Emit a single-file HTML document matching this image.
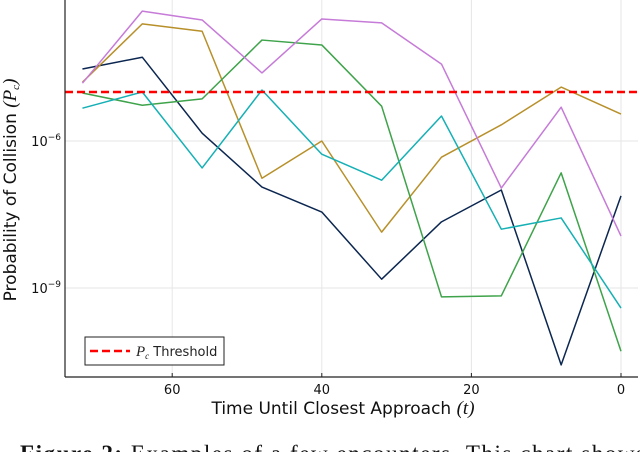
<!DOCTYPE html>
<html><head><meta charset="utf-8"><style>
html,body{margin:0;padding:0;background:#fff;width:640px;height:452px;overflow:hidden}
svg text{font-family:"DejaVu Sans","Liberation Sans",sans-serif}
.ser{font-family:"Liberation Serif",serif !important;font-style:italic}
.cap{font-family:"Liberation Serif",serif !important}
</style></head><body>
<svg id="chart" width="640" height="452" viewBox="0 0 640 452" xmlns="http://www.w3.org/2000/svg">
<g id="grid"></g>
<g id="series"></g>
<g id="axes"></g>
<g>
<rect x="85" y="337" width="139" height="28" fill="#fff" stroke="#222" stroke-width="1"/>
<line x1="90" y1="351" x2="130" y2="351" stroke="#f00" stroke-width="2.5" stroke-dasharray="8,4"/>
<text x="136" y="356" font-size="13" fill="#222"><tspan class="ser" font-size="15">P</tspan><tspan class="ser" font-size="9" dy="3">c</tspan><tspan dy="-3"> Threshold</tspan></text>
</g>
<text x="343" y="414" font-size="17" text-anchor="middle" fill="#111">Time Until Closest Approach <tspan class="ser" font-size="19">(t)</tspan></text>
<text transform="translate(16,190) rotate(-90)" font-size="17" text-anchor="middle" fill="#111">Probability of Collision <tspan class="ser" font-size="19">(P</tspan><tspan class="ser" font-size="11" dy="3">c</tspan><tspan class="ser" font-size="19" dy="-3">)</tspan></text>
<text class="cap" x="20" y="461" font-size="23" fill="#111" textLength="625" lengthAdjust="spacing"><tspan font-weight="bold">Figure 2:</tspan> Examples of a few encounters. This chart shows</text>
</svg>
<script>
const times = [72, 64, 56, 48, 40, 32, 24, 16, 8, 0];
const seriesNavy   = [-4.53, -4.29, -5.84, -6.94, -7.45, -8.82, -7.65, -7.0, -10.57, -7.12];
const seriesGold   = [-4.80, -3.61, -3.76, -6.76, -6.0, -7.86, -6.33, -5.67, -4.90, -5.45];
const seriesGreen  = [-5.02, -5.27, -5.14, -3.94, -4.04, -5.29, -9.18, -9.16, -6.65, -10.29];
const seriesCyan   = [-5.33, -5.0, -6.55, -4.96, -6.27, -6.80, -5.49, -7.80, -7.57, -9.41];
const seriesPurple = [-4.82, -3.35, -3.53, -4.61, -3.51, -3.59, -4.43, -6.96, -5.31, -7.94];
const thresholdLog = -5;
const xTicks = [60, 40, 20, 0];
const yTicks = [-6, -9];

const NS = "http://www.w3.org/2000/svg";
const L = 65, R = 638, T = 0, B = 377;
function xs(t){ return 621 - 7.48 * t; }
function ys(lg){ return 141 - (lg + 6) * 49; }
function mk(tag, attrs, parent){ const e = document.createElementNS(NS, tag); for (const k in attrs) e.setAttribute(k, attrs[k]); parent.appendChild(e); return e; }

const grid = document.getElementById('grid');
const axes = document.getElementById('axes');
const ser = document.getElementById('series');

xTicks.forEach(t => {
  const g = mk('line', {x1: xs(t), x2: xs(t), y1: T, y2: B, stroke: '#e6e6e6', 'stroke-width': 1}, grid);
  
  
  const tk = mk('line', {x1: xs(t), x2: xs(t), y1: B, y2: B - 4, stroke: '#222', 'stroke-width': 1}, axes);
  
  
  const tx = mk('text', {x: xs(t), y: B + 17, 'font-size': 13, 'text-anchor': 'middle', fill: '#111'}, axes);
  tx.textContent = t;
  
  
});
yTicks.forEach(v => {
  const g = mk('line', {x1: L, x2: R, y1: ys(v), y2: ys(v), stroke: '#e6e6e6', 'stroke-width': 1}, grid);
  
  
  const tx = mk('text', {x: L - 4, y: ys(v) + 5, 'font-size': 13, 'text-anchor': 'end', fill: '#111'}, axes);
  
  
  tx.textContent = '10';
  const sp = document.createElementNS(NS, 'tspan');
  sp.setAttribute('font-size', '9'); sp.setAttribute('dy', '-6');
  sp.textContent = '\u2212' + Math.abs(v);
  tx.appendChild(sp);
});
const ax1 = mk('line', {x1: L, x2: L, y1: T, y2: B, stroke: '#222', 'stroke-width': 1.2}, axes);


const ax2 = mk('line', {x1: L, x2: R, y1: B, y2: B, stroke: '#222', 'stroke-width': 1.2}, axes);



const list = [
  ['series-navy', seriesNavy, '#0b2650'],
  ['series-gold', seriesGold, '#b8902a'],
  ['series-green', seriesGreen, '#3ea34a'],
  ['series-cyan', seriesCyan, '#15b0b5'],
  ['series-purple', seriesPurple, '#c67bd8']
];
list.forEach(([name, vals, col]) => {
  const p = mk('polyline', {points: vals.map((v, i) => xs(times[i]) + ',' + ys(v)).join(' '), fill: 'none', stroke: col, 'stroke-width': 1.5, 'stroke-linejoin': 'round'}, ser);
  
  
});
const th = mk('line', {x1: L, x2: R, y1: ys(thresholdLog), y2: ys(thresholdLog), stroke: '#f00', 'stroke-width': 2.5, 'stroke-dasharray': '8,4'}, ser);


</script>
</body></html>
